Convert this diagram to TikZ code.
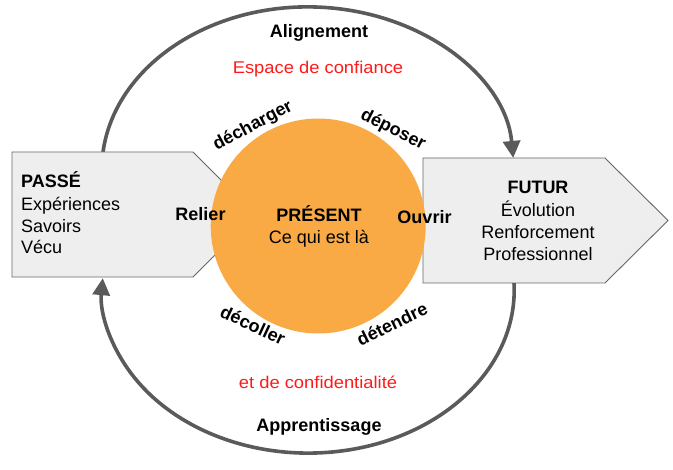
\documentclass[tikz,border=0pt]{standalone}
\usepackage{fontspec}
\setmainfont{Liberation Sans}
\newfontfamily\handfont[FakeStretch=1.08]{Liberation Sans}
\usetikzlibrary{arrows.meta}
\definecolor{boxfill}{HTML}{EEEEEE}
\definecolor{boxline}{HTML}{666666}
\definecolor{arcline}{HTML}{5A5A5A}
\definecolor{sun}{HTML}{FAAA45}
\definecolor{redtxt}{HTML}{FF1A1A}
\begin{document}
\begin{tikzpicture}[x=1pt,y=-1pt,
  cyclearc/.style={draw=arcline,line width=3.6pt,-{Triangle[length=17pt,width=17pt]}},
  arrowbox/.style={fill=boxfill,draw=boxline,line width=0.9pt},
  txt/.style={inner sep=0pt,font=\fontsize{18}{22}\selectfont},
  btxt/.style={inner sep=0pt,font=\fontsize{18}{22}\selectfont\bfseries},
  hand/.style={inner sep=0pt,text=redtxt,font=\fontsize{17}{20}\handfont}]
\useasboundingbox (0,0) rectangle (673,470);
% cycle arcs
\coordinate (topstart) at (103,152);
\coordinate (botstart) at (514,283);
\draw[cyclearc] (topstart) arc[start angle=186.3,end angle=355.8,x radius=206,y radius=163];
\draw[cyclearc] (botstart) arc[start angle=-2.5,end angle=184.2,x radius=206,y radius=163];
% boxes
\draw[arrowbox] (12,152) -- (193,152) -- (255.5,214.5) -- (193,277) -- (12,277) -- cycle;
\draw[arrowbox] (423,158) -- (605,158) -- (668,220.5) -- (605,283) -- (423,283) -- cycle;
% present circle
\fill[sun] (318.2,226) circle[radius=107.5];
% left box text
\node[btxt,anchor=base west] (passe) at (21,188) {PASSÉ};
\node[txt,anchor=base west] (exp) at (21,210.5) {Expériences};
\node[txt,anchor=base west] (sav) at (21,232.5) {Savoirs};
\node[txt,anchor=base west] (vec) at (21,254) {Vécu};
\node[btxt,anchor=base] (relier) at (200.5,220.7) {Relier};
% right box text
\node[btxt,anchor=base] (futur) at (538,194) {FUTUR};
\node[txt,anchor=base] (evo) at (538,216.5) {Évolution};
\node[txt,anchor=base] (renf) at (538,238.5) {Renforcement};
\node[txt,anchor=base] (prof) at (538,261) {Professionnel};
\node[btxt,anchor=base] (ouvrir) at (424.5,223.3) {Ouvrir};
% center text
\node[btxt,anchor=base] (present) at (319,221.7) {PRÉSENT};
\node[txt,anchor=base] (cequi) at (319,243.3) {Ce qui est là};
% rotated verbs
\node[btxt,rotate=28] (dech) at (253,126) {décharger};
\node[btxt,rotate=-27] (depo) at (393,130) {déposer};
\node[btxt,rotate=-25] (deco) at (253,325) {décoller};
\node[btxt,rotate=26] (dete) at (392,324) {détendre};
% arc labels
\node[btxt,anchor=base] (align) at (319,37.7) {Alignement};
\node[hand,anchor=base] (espace) at (318,74) {Espace de confiance};
\node[hand,anchor=base] (confid) at (318,389) {et de confidentialité};
\node[btxt,anchor=base] (appr) at (319,431.7) {Apprentissage};
\end{tikzpicture}
\end{document}
